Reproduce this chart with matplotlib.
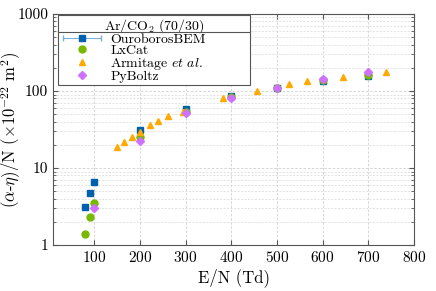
import matplotlib
matplotlib.use('Agg')
import matplotlib.pyplot as plt
from matplotlib.lines import Line2D
from matplotlib.legend_handler import HandlerErrorbar
import numpy as np

plt.rcParams['font.family'] = 'serif'
plt.rcParams['font.serif'] = ['cmr10', 'DejaVu Serif']
plt.rcParams['mathtext.fontset'] = 'cm'
plt.rcParams['axes.unicode_minus'] = False
plt.rcParams['axes.formatter.use_mathtext'] = True
plt.rcParams['font.size'] = 11

# data
ouro_x = [80, 90, 100, 200, 300, 400, 500, 600, 700]
ouro_y = [3.14, 4.69, 6.5, 31.4, 58.4, 86.9, 110, 136, 158]

lxcat_x = [80, 90, 100, 200, 300, 400, 500, 600, 700]
lxcat_y = [1.38, 2.33, 3.54, 25.0, 53.8, 84, 110, 140, 163]

arm_x = [151, 166, 183, 200, 223, 239, 262, 294, 382, 456, 527, 565, 644, 739]
arm_y = [18.6, 21.6, 25.5, 29.6, 35.8, 40.4, 47.3, 53.8, 80.4, 101, 122, 134, 152, 175]

pyb_x = [100, 200, 300, 400, 500, 600, 700]
pyb_y = [3.0, 22.2, 51.3, 81.8, 110, 143, 175]

labels = ['OuroborosBEM', 'LxCat', 'Armitage $\\it{et\\ al.}$', 'PyBoltz']

fig = plt.figure(figsize=(4.36, 2.91), dpi=100)
ax = fig.add_axes([0.1216, 0.158, 0.828, 0.794])

eb = ax.errorbar(ouro_x, ouro_y, xerr=np.zeros(len(ouro_x)), fmt='s', color='#0060ad', ms=5,
                 ecolor='#7aaedb', elinewidth=0.8, capsize=2, zorder=3)
l1, = ax.plot(lxcat_x, lxcat_y, 'o', color='#77b800', ms=5, zorder=4)
l2, = ax.plot(arm_x, arm_y, '^', color='#ffaa00', ms=5, zorder=5)
l3, = ax.plot(pyb_x, pyb_y, 'D', color='#d070ff', ms=4, zorder=6)

ax.set_yscale('log')
ax.set_xlim(10, 800)
ax.set_ylim(1, 1000)
ax.set_xticks([100, 200, 300, 400, 500, 600, 700, 800])
ax.set_yticks([1, 10, 100, 1000])
ax.set_yticklabels(['1', '10', '100', '1000'])
ax.yaxis.set_minor_formatter(matplotlib.ticker.NullFormatter())

ax.grid(True, which='major', color='#d0d0d0', linestyle=(0, (3, 2)), linewidth=0.6)
ax.grid(True, which='minor', axis='y', color='#d8d8d8', linestyle=(0, (3, 2)), linewidth=0.5)
ax.set_axisbelow(True)
ax.tick_params(which='both', direction='in', top=True, right=True, color='#555555')
ax.tick_params(which='major', length=3.5, labelsize=11)
ax.tick_params(which='minor', length=2)
for s in ax.spines.values():
    s.set_color('#555555')
    s.set_linewidth(0.8)

ax.set_xlabel('E/N (Td)', fontsize=12, labelpad=2)
ax.set_ylabel('($\\alpha$-$\\eta$)/N ($\\times 10^{-22}$ m$^2$)', fontsize=12)
ax.yaxis.set_label_coords(-0.084, 0.5)

leg = ax.legend([eb, l1, l2, l3], labels,
                handler_map={eb: HandlerErrorbar(xerr_size=1.35)},
                title='Ar/CO$_2$ (70/30)', title_fontsize=10, fontsize=10,
                loc='upper left', bbox_to_anchor=(0.014, 0.995, 0.532, 0.0), mode='expand',
                fancybox=False, framealpha=1, edgecolor='#555555', borderpad=0.12,
                labelspacing=-0.1, handletextpad=0.45, handlelength=3.2, borderaxespad=0.0)
leg.get_frame().set_linewidth(0.8)

# line under the legend title
fig.canvas.draw()
fb = leg.get_frame().get_window_extent()
tb = leg.get_title().get_window_extent()
inv = fig.transFigure.inverted()
x0, y0 = inv.transform((fb.x0, tb.y0 + 3))
x1, _ = inv.transform((fb.x1, tb.y0 + 3))
fig.add_artist(Line2D([x0, x1], [y0, y0], color='#555555', linewidth=0.8, zorder=10))

fig.savefig('out.png', dpi=100)
